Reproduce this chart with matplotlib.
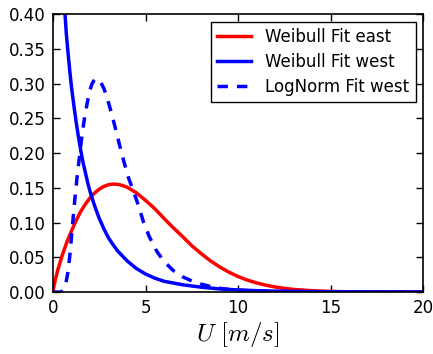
import numpy as np
import matplotlib
matplotlib.use('Agg')
import matplotlib.pyplot as plt

# wind speed [m/s] and probability density for each fitted distribution
u_east = [0.0, 0.05, 0.1, 0.25, 0.5, 0.75, 1.0, 1.25, 1.5, 1.75, 2.0, 2.25,
          2.5, 2.75, 3.0, 3.25, 3.5, 3.75, 4.0, 4.5, 5.0, 5.5, 6.0, 6.5, 7.0,
          7.5, 8.0, 8.5, 9.0, 9.5, 10.0, 10.5, 11.0, 11.5, 12.0, 12.5, 13.0,
          14.0, 15.0, 16.0, 18.0, 20.0]
pdf_weibull_east = [0.0, 0.0085, 0.0148, 0.031, 0.053, 0.072, 0.088, 0.103,
                    0.116, 0.1266, 0.1355, 0.1427, 0.148, 0.1521, 0.1545,
                    0.1554, 0.155, 0.1534, 0.151, 0.143, 0.132, 0.120, 0.106,
                    0.0925, 0.080, 0.0667, 0.0555, 0.0451, 0.0363, 0.0287,
                    0.0224, 0.0172, 0.0132, 0.0099, 0.0073, 0.0053, 0.0038,
                    0.0019, 0.0009, 0.0004, 0.0001, 0.0]

u_west = [0.05, 0.15, 0.3, 0.45, 0.55, 0.65, 0.72, 0.8, 0.9, 1.0, 1.12, 1.25,
          1.37, 1.5, 1.62, 1.75, 1.87, 2.0, 2.25, 2.5, 2.75, 3.0, 3.25, 3.5,
          3.75, 4.0, 4.5, 5.0, 5.5, 6.0, 7.0, 8.0, 9.0, 10.0, 11.0, 12.0,
          14.0, 16.0, 20.0]
pdf_weibull_west = [1.2, 0.78, 0.58, 0.48, 0.44, 0.40, 0.372, 0.348, 0.32,
                    0.295, 0.27, 0.245, 0.224, 0.204, 0.187, 0.172, 0.158,
                    0.145, 0.124, 0.106, 0.091, 0.078, 0.068, 0.059, 0.052,
                    0.045, 0.034, 0.026, 0.020, 0.0155, 0.0105, 0.007, 0.0045,
                    0.003, 0.002, 0.0013, 0.0006, 0.0003, 0.0001]

u_logn = [0.0, 0.45, 0.6, 0.7, 0.8, 0.9, 1.0, 1.1, 1.2, 1.3, 1.4, 1.55, 1.7,
          1.8, 1.9, 2.0, 2.1, 2.2, 2.3, 2.45, 2.6, 2.75, 2.9, 3.0, 3.2, 3.35,
          3.5, 3.6, 3.85, 4.1, 4.35, 4.6, 4.9, 5.2, 5.6, 6.0, 6.5, 7.0, 7.5,
          8.0, 8.5, 9.0, 9.5, 10.0, 11.0, 12.0, 14.0, 16.0, 20.0]
pdf_logn_west = [0.0, 0.0, 0.005, 0.013, 0.028, 0.05, 0.08, 0.11, 0.139,
                 0.165, 0.188, 0.222, 0.250, 0.265, 0.279, 0.291, 0.299,
                 0.304, 0.307, 0.306, 0.301, 0.293, 0.282, 0.2725, 0.254,
                 0.238, 0.222, 0.2115, 0.186, 0.163, 0.145, 0.126, 0.100,
                 0.080, 0.059, 0.044, 0.031, 0.022, 0.016, 0.0115, 0.008,
                 0.0055, 0.0038, 0.0027, 0.0014, 0.0007, 0.0002, 0.0001, 0.0]

plt.rcParams['font.family'] = 'DejaVu Sans'
plt.rcParams['mathtext.fontset'] = 'cm'
plt.rcParams['lines.scale_dashes'] = False

fig = plt.figure(figsize=(4.33, 3.54), dpi=100)
ax = fig.add_axes([0.1224, 0.175, 0.8546, 0.785])

ax.plot(u_east, pdf_weibull_east, color='red', lw=2.5, label='Weibull Fit east')
ax.plot(u_west, pdf_weibull_west, color='blue', lw=2.5, label='Weibull Fit west')
ax.plot(u_logn, pdf_logn_west, color='blue', lw=2.5, dashes=(7.5, 6.5),
        label='LogNorm Fit west')

ax.set_xlim(0, 20)
ax.set_ylim(0, 0.4)
ax.set_xticks([0, 5, 10, 15, 20])
ax.set_yticks(np.arange(0, 0.41, 0.05))
ax.yaxis.set_major_formatter(matplotlib.ticker.FormatStrFormatter('%.2f'))
ax.tick_params(direction='in', top=True, right=True, length=5, width=1,
               labelsize=12, pad=5)
for s in ax.spines.values():
    s.set_linewidth(1.2)

ax.set_xlabel(r'$U\ [m/s]$', fontsize=18, labelpad=2)

leg = ax.legend(loc='upper right', fontsize=12, fancybox=False,
                framealpha=1, edgecolor='black', handlelength=2.0,
                handletextpad=0.85, borderaxespad=0.45, labelspacing=0.4)
leg.get_frame().set_linewidth(1.0)

fig.savefig('out.png', dpi=100)
